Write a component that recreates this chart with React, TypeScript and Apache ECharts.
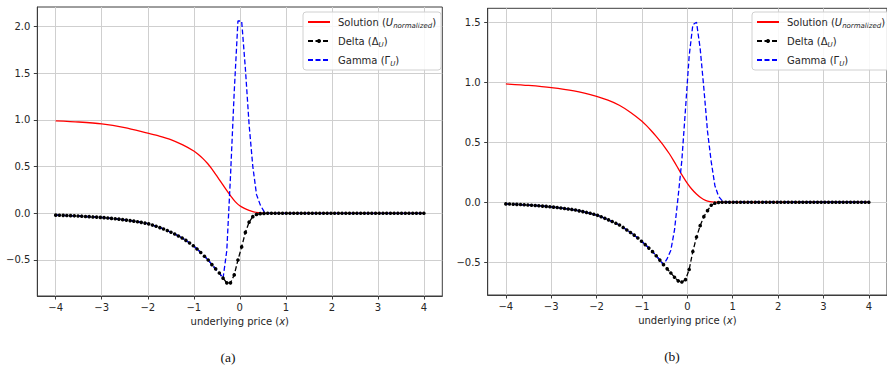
import React, { useEffect, useRef } from "react";
import * as echarts from "echarts";

// sample positions (np.linspace(-4, 4, 100))
const xs = Array.from({ length: 100 }, (_, k) => -4 + (8 * k) / 99);

// ---- panel (a) ----
const deltaA = [
  -0.020, -0.021, -0.022, -0.024, -0.025, -0.027, -0.029, -0.031, -0.034, -0.036,
  -0.039, -0.041, -0.044, -0.047, -0.051, -0.055, -0.059, -0.063, -0.068, -0.073,
  -0.078, -0.084, -0.090, -0.097, -0.105, -0.113, -0.126, -0.139, -0.153, -0.168,
  -0.185, -0.203, -0.222, -0.243, -0.265, -0.290, -0.318, -0.348, -0.382, -0.420,
  -0.460, -0.500, -0.550, -0.595, -0.640, -0.695, -0.745, -0.745, -0.660, -0.500,
  -0.360, -0.205, -0.095, -0.036, -0.012, -0.004, -0.001, 0, 0, 0,
  0, 0, 0, 0, 0, 0, 0, 0, 0, 0,
  0, 0, 0, 0, 0, 0, 0, 0, 0, 0,
  0, 0, 0, 0, 0, 0, 0, 0, 0, 0,
  0, 0, 0, 0, 0, 0, 0, 0, 0, 0,
];
const gammaA = [
  -0.020, -0.021, -0.022, -0.024, -0.025, -0.027, -0.029, -0.031, -0.034, -0.036,
  -0.039, -0.041, -0.044, -0.047, -0.051, -0.055, -0.059, -0.063, -0.068, -0.073,
  -0.078, -0.084, -0.090, -0.097, -0.105, -0.113, -0.126, -0.139, -0.153, -0.168,
  -0.185, -0.203, -0.222, -0.243, -0.265, -0.290, -0.318, -0.348, -0.382, -0.420,
  -0.460, -0.500, -0.550, -0.595, -0.640, -0.695, -0.400, 0.400, 1.300, 2.060,
  2.060, 1.550, 0.950, 0.500, 0.200, 0.090, 0.020, 0.004, 0, 0,
  0, 0, 0, 0, 0, 0, 0, 0, 0, 0,
  0, 0, 0, 0, 0, 0, 0, 0, 0, 0,
  0, 0, 0, 0, 0, 0, 0, 0, 0, 0,
  0, 0, 0, 0, 0, 0, 0, 0, 0, 0,
];
const solAx = [-4, -3.5, -3, -2.5, -2, -1.75, -1.5, -1.25, -1, -0.9, -0.8, -0.7, -0.6, -0.5, -0.4, -0.3, -0.2, -0.1, 0, 0.1, 0.2, 0.3, 0.4, 0.5, 0.6, 1, 2, 3, 4];
const solAy = [0.990, 0.978, 0.958, 0.917, 0.858, 0.828, 0.790, 0.735, 0.668, 0.630, 0.586, 0.533, 0.470, 0.400, 0.328, 0.255, 0.186, 0.125, 0.080, 0.052, 0.031, 0.016, 0.007, 0.002, 0, 0, 0, 0, 0];

// ---- panel (b) ----
const deltaB = [
  -0.014, -0.015, -0.017, -0.018, -0.019, -0.021, -0.023, -0.025, -0.027, -0.029,
  -0.032, -0.035, -0.038, -0.041, -0.044, -0.048, -0.052, -0.056, -0.060, -0.065,
  -0.072, -0.078, -0.085, -0.092, -0.100, -0.109, -0.121, -0.134, -0.147, -0.161,
  -0.175, -0.190, -0.210, -0.231, -0.252, -0.274, -0.298, -0.325, -0.353, -0.382,
  -0.412, -0.446, -0.482, -0.520, -0.555, -0.590, -0.625, -0.655, -0.665, -0.645,
  -0.560, -0.410, -0.290, -0.195, -0.120, -0.070, -0.025, -0.008, -0.002, 0,
  0, 0, 0, 0, 0, 0, 0, 0, 0, 0,
  0, 0, 0, 0, 0, 0, 0, 0, 0, 0,
  0, 0, 0, 0, 0, 0, 0, 0, 0, 0,
  0, 0, 0, 0, 0, 0, 0, 0, 0, 0,
];
const gammaB = [
  -0.014, -0.015, -0.017, -0.018, -0.019, -0.021, -0.023, -0.025, -0.027, -0.029,
  -0.032, -0.035, -0.038, -0.041, -0.044, -0.048, -0.052, -0.056, -0.060, -0.065,
  -0.072, -0.078, -0.085, -0.092, -0.100, -0.109, -0.121, -0.134, -0.147, -0.161,
  -0.175, -0.190, -0.210, -0.231, -0.252, -0.274, -0.298, -0.325, -0.353, -0.382,
  -0.412, -0.446, -0.482, -0.520, -0.470, -0.400, -0.230, 0.050, 0.350, 0.780,
  1.220, 1.480, 1.500, 1.280, 0.950, 0.590, 0.340, 0.140, 0.050, 0.012,
  0.003, 0, 0, 0, 0, 0, 0, 0, 0, 0,
  0, 0, 0, 0, 0, 0, 0, 0, 0, 0,
  0, 0, 0, 0, 0, 0, 0, 0, 0, 0,
  0, 0, 0, 0, 0, 0, 0, 0, 0, 0,
];
const solBx = [-4, -3.5, -3, -2.5, -2, -1.75, -1.5, -1.25, -1, -0.9, -0.8, -0.7, -0.6, -0.5, -0.4, -0.3, -0.2, -0.1, 0, 0.1, 0.2, 0.3, 0.4, 0.5, 0.6, 0.7, 1, 2, 3, 4];
const solBy = [0.986, 0.973, 0.955, 0.927, 0.882, 0.850, 0.808, 0.748, 0.675, 0.638, 0.598, 0.555, 0.509, 0.460, 0.406, 0.345, 0.280, 0.216, 0.158, 0.108, 0.068, 0.037, 0.016, 0.005, 0.001, 0, 0, 0, 0, 0];

const xTicks = [-4, -3, -2, -1, 0, 1, 2, 3, 4];
const yTicksA = [-0.5, 0, 0.5, 1, 1.5, 2];
const yTicksB = [-0.5, 0, 0.5, 1, 1.5];
const captions = ["(a)", "(b)"];

const FONT = "DejaVu Sans";
const TXT = "#262626";
const FRAME = "#3c3c3c";
const GRIDC = "#cfcfcf";

const fmtNum = (d: number) => (v: number) => (v < 0 ? "\u2212" : "") + Math.abs(v).toFixed(d);

function xAxisFor(gridIndex: number) {
  return {
    type: "value",
    gridIndex,
    min: -4.4,
    max: 4.4,
    name: "underlying price ({i|x})",
    nameLocation: "middle",
    nameGap: 20,
    nameTextStyle: {
      fontFamily: FONT,
      fontSize: 10,
      color: TXT,
      rich: { i: { fontFamily: FONT, fontSize: 10, fontStyle: "italic", color: TXT } },
    },
    axisLine: { show: true, onZero: false, lineStyle: { color: FRAME, width: 1 } },
    axisTick: { show: true, inside: false, length: 3.5, customValues: xTicks, lineStyle: { color: FRAME } },
    axisLabel: { customValues: xTicks, formatter: fmtNum(0), fontFamily: FONT, fontSize: 10, color: TXT, margin: 6 },
    splitLine: { show: true, lineStyle: { color: GRIDC, width: 1 } },
  };
}

function yAxisFor(gridIndex: number, min: number, max: number, ticks: number[]) {
  return {
    type: "value",
    gridIndex,
    min,
    max,
    axisLine: { show: true, onZero: false, lineStyle: { color: FRAME, width: 1 } },
    axisTick: { show: true, inside: false, length: 3.5, customValues: ticks, lineStyle: { color: FRAME } },
    axisLabel: { customValues: ticks, formatter: fmtNum(1), fontFamily: FONT, fontSize: 10, color: TXT, margin: 7 },
    splitLine: { show: true, lineStyle: { color: GRIDC, width: 1 } },
  };
}

function seriesFor(idx: number, solX: number[], solY: number[], delta: number[], gamma: number[]) {
  const dash = [5, 2.5];
  return [
    {
      name: "Solution",
      type: "line",
      xAxisIndex: idx,
      yAxisIndex: idx,
      data: solX.map((x, i) => [x, solY[i]]),
      symbol: "none",
      showSymbol: false,
      smooth: 0.25,
      lineStyle: { color: "#ff0000", width: 1.3 },
      itemStyle: { color: "#ff0000" },
    },
    {
      name: "Delta",
      type: "line",
      xAxisIndex: idx,
      yAxisIndex: idx,
      data: xs.map((x, i) => [x, delta[i]]),
      symbol: "circle",
      symbolSize: 3.6,
      showSymbol: true,
      lineStyle: { color: "#000000", width: 1.3, type: dash },
      itemStyle: { color: "#000000", borderWidth: 0 },
    },
    {
      name: "Gamma",
      type: "line",
      xAxisIndex: idx,
      yAxisIndex: idx,
      data: xs.map((x, i) => [x, gamma[i]]),
      symbol: "none",
      showSymbol: false,
      lineStyle: { color: "#0000ff", width: 1.3, type: dash },
      itemStyle: { color: "#0000ff" },
    },
  ];
}

const hiddenSymbol = { color: "rgba(0,0,0,0)", borderWidth: 0, opacity: 0 };

function legendFor(left: number) {
  return {
    left,
    top: 12,
    orient: "vertical",
    data: [
      { name: "Solution", itemStyle: hiddenSymbol },
      { name: "Delta" },
      { name: "Gamma", itemStyle: hiddenSymbol },
    ],
    selectedMode: false,
    itemWidth: 22,
    itemHeight: 5,
    itemGap: 5,
    padding: [3, 5, 3, 4],
    backgroundColor: "rgba(255,255,255,0.85)",
    borderColor: "#d0d0d0",
    borderWidth: 1,
    borderRadius: 3,
    formatter: (name: string) =>
      name === "Solution"
        ? "Solution ({u|U}{s|normalized})"
        : name === "Delta"
        ? "Delta (\u0394{s|U})"
        : "Gamma (\u0393{s|U})",
    textStyle: {
      fontFamily: FONT,
      fontSize: 10,
      lineHeight: 14,
      color: TXT,
      padding: [0, 0, 0, 3],
      rich: {
        u: { fontFamily: FONT, fontSize: 10, fontStyle: "italic", lineHeight: 14, color: TXT },
        s: { fontFamily: FONT, fontSize: 7, fontStyle: "italic", verticalAlign: "bottom", lineHeight: 8, color: TXT },
      },
    },
  };
}

export default function App() {
  const ref = useRef<HTMLDivElement>(null);
  useEffect(() => {
    if (!ref.current) return;
    const chart = echarts.init(ref.current, undefined, { renderer: "svg" });
    chart.setOption({
      animation: false,
      backgroundColor: "#ffffff",
      grid: [
        { left: 37.3, top: 7, width: 405, height: 289, show: true, borderColor: FRAME, borderWidth: 1, backgroundColor: "transparent" },
        { left: 487.7, top: 8.3, width: 402.6, height: 286.7, show: true, borderColor: FRAME, borderWidth: 1, backgroundColor: "transparent" },
      ],
      xAxis: [xAxisFor(0), xAxisFor(1)],
      yAxis: [yAxisFor(0, -0.886, 2.21, yTicksA), yAxisFor(1, -0.773, 1.616, yTicksB)],
      legend: [legendFor(303), legendFor(752)],
      series: [
        ...seriesFor(0, solAx, solAy, deltaA, gammaA),
        ...seriesFor(1, solBx, solBy, deltaB, gammaB),
      ],
      graphic: [
        { type: "text", x: 228, y: 357, style: { text: captions[0], align: "center", verticalAlign: "middle", font: '13.5px "Liberation Serif"', fill: "#111" } },
        { type: "text", x: 672, y: 356, style: { text: captions[1], align: "center", verticalAlign: "middle", font: '13.5px "Liberation Serif"', fill: "#111" } },
      ],
    } as any);
    return () => chart.dispose();
  }, []);
  return <div ref={ref} style={{ position: "absolute", left: 0, top: 0, width: 887, height: 368 }} />;
}
